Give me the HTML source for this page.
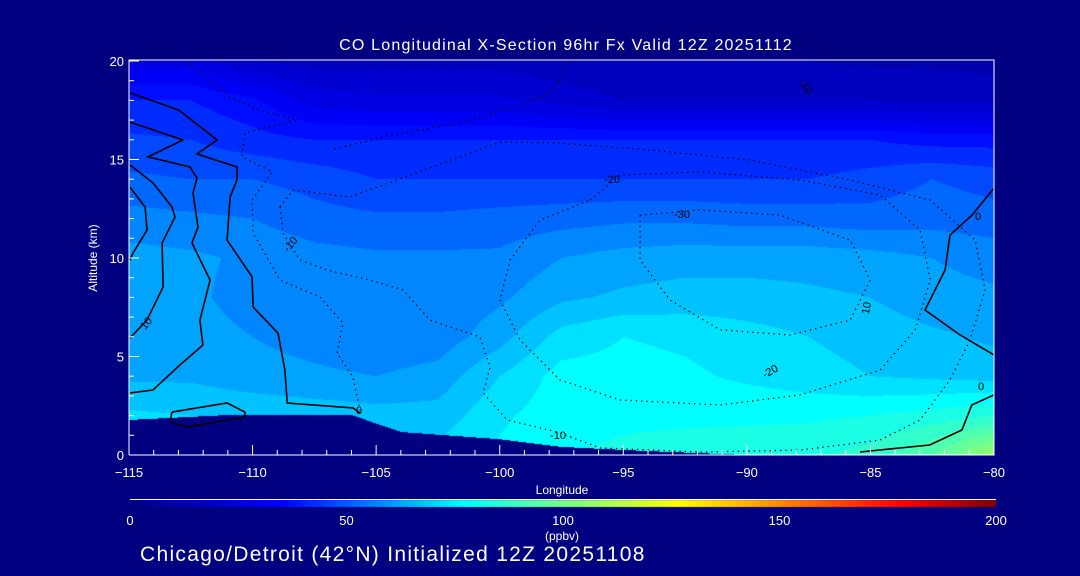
<!DOCTYPE html>
<html><head><meta charset="utf-8"><style>
html,body{margin:0;padding:0;background:#000080;width:1080px;height:576px;overflow:hidden}
#wrap{position:relative;width:1080px;height:576px;font-family:"Liberation Sans",sans-serif;color:#fff}
canvas,svg{position:absolute;left:0;top:0}
</style></head><body>
<div id="wrap">
<canvas id="cv" width="1080" height="576"></canvas>
<svg id="sv" width="1080" height="576"></svg>
</div>
<script>
// ---- data ----
const lons=[-115,-112.5,-110,-107.5,-105,-102.5,-100,-97.5,-95,-92.5,-90,-87.5,-85,-82.5,-80];
const alts=[20,18,16,14,12,10,8,6,4,2,0];
const coAlt20=[28,28,20,18,18,18,18,16,15,15,15,15,14,14,13];
const coAlt18=[40,40,36,28,26,26,26,23,20,20,20,20,20,19,19];
const coAlt16=[46,45,42,40,40,40,40,40,40,40,40,40,40,38,38];
const coAlt14=[51,50,50,48,45,45,45,45,45,45,45,45,47,50,48];
const coAlt12=[57,56,55,52,51,51,52,53,54,54,53,53,52,53,52];
const coAlt10=[62,61,59,57,56,56,56,60,62,63,63,63,62,60,58];
const coAlt8=[61,61,58,56,55,56,59,64,66,67,67,66,65,62,61];
const coAlt6=[62,62,60,58,56,57,63,72,75,74,72,70,68,66,64];
const coAlt4=[64,64,62,61,60,62,70,77,77,76,74,72,70,69,68];
const coAlt2=[71,70,69,68,67,67,74,78,79,79,79,79,80,82,85];
const coAlt0=[72,72,70,70,70,72,76,80,81,82,83,84,87,95,108];
const terrainLon=[-115,-111,-106,-104,-100,-97.5,-94,-90,-80];
const terrainAlt=[1.78,2.03,2.03,1.17,0.8,0.41,0.2,0,0];
const xTicks=[-115,-110,-105,-100,-95,-90,-85,-80];
const yTicks=[0,5,10,15,20];
const cbTicks=[0,50,100,150,200];
// anomaly contour lines [lon,alt]
const solidL1=[[-114.96,18.38],[-112.98,17.51],[-111.44,15.99],[-112.25,15.28],[-110.63,14.62],[-110.63,13.96],[-110.91,13.1],[-111.03,10.91],[-110.02,9.04],[-109.98,7.51],[-108.97,6.19],[-108.69,4.31],[-108.6,2.64],[-105.94,2.39],[-105.65,2.13]];
const solidL2=[[-114.96,16.9],[-112.82,15.99],[-114.23,15.13],[-112.53,14.62],[-112.25,14.06],[-112.41,13.3],[-112.21,11.57],[-112.45,10.76],[-111.72,8.88],[-112.13,6.85],[-112.01,5.58],[-112.94,4.57],[-114.03,3.3],[-114.96,3.15]];
const solidL4=[[-114.96,14.72],[-114.03,13.81],[-113.26,12.59],[-113.14,12.08],[-113.66,10.76],[-113.62,8.53],[-114.27,6.85],[-114.96,5.94]];
const solidL5=[[-114.96,13.6],[-114.35,12.59],[-114.27,11.42],[-114.84,10.25],[-114.96,9.9]];
const solidLoop=[[-113.26,2.18],[-111.03,2.64],[-110.31,2.18],[-110.31,1.93],[-112.65,1.42],[-113.34,1.68],[-113.26,2.18]];
const solidR1=[[-80,13.55],[-80.89,12.18],[-81.78,11.17],[-81.98,9.39],[-82.79,7.36],[-81.37,6.09],[-80,5.08]];
const solidR2=[[-85.42,0.15],[-82.6,0.51],[-81.3,1.27],[-80.9,2.54],[-80,3.05]];
const dotD1=[[-112.82,20.05],[-110.91,18.17],[-109.7,17.51],[-108.2,17.0],[-110.31,16.35],[-110.43,15.13],[-109.21,14.37],[-110.02,12.94],[-109.98,11.27],[-108.89,8.88],[-107.27,8.02],[-106.34,6.7],[-106.58,5.18],[-105.94,3.96],[-105.65,2.28]];
const dotD2=[[-108.89,12.59],[-108.36,13.45],[-106.06,13.1],[-104.15,13.96],[-99.99,15.89],[-97.68,15.84],[-93.92,15.48],[-89.87,14.97],[-85.82,13.96],[-82.58,12.94],[-80.76,10.91],[-80.36,8.38],[-80.97,5.84],[-81.78,3.81],[-82.99,1.78],[-84.61,0.76],[-87.84,0.25],[-91.89,0.15],[-95.94,0.36],[-97.68,1.17],[-99.7,1.78],[-100.67,3.15],[-100.39,4.47],[-100.8,5.99],[-102.82,6.85],[-103.91,8.38],[-105.25,8.88],[-106.99,9.39],[-108.08,9.9],[-108.77,11.27],[-108.89,12.59]];
const dotD3=[[-96.34,12.94],[-95.13,14.21],[-91.89,14.37],[-87.84,13.96],[-84.61,13.2],[-82.99,11.42],[-82.58,8.88],[-83.19,6.35],[-84.61,4.31],[-87.84,3.05],[-91.08,2.54],[-95.13,2.79],[-97.56,3.81],[-99.18,5.84],[-99.99,7.87],[-99.58,9.9],[-98.37,11.93],[-96.34,12.94]];
const dotD4=[[-94.32,12.18],[-91.89,12.44],[-88.65,12.18],[-85.82,10.91],[-85.01,8.88],[-85.82,6.85],[-88.25,6.09],[-91.08,6.35],[-93.11,7.87],[-94.32,9.9],[-94.32,12.18]];
const dotTop=[[-97.2,20],[-97.8,18.5],[-99.5,17.6],[-101.5,16.9],[-104.5,16.2],[-106.8,15.5]];

const grid=[coAlt20,coAlt18,coAlt16,coAlt14,coAlt12,coAlt10,coAlt8,coAlt6,coAlt4,coAlt2,coAlt0];
// ---- axes ----
const X0=129,X1=994,Y0=455,Y1=61;
const xs=l=>X0+(l+115)/35*(X1-X0);
const ys=a=>Y0-a/20*(Y0-Y1);
const stops=[[0,[0,0,128]],[35,[0,0,255]],[77,[0,255,255]],[102,[128,255,128]],[127,[255,255,0]],[178,[255,0,0]],[200,[128,0,0]]];
function cmap(v){v=Math.max(0,Math.min(200,v));for(let i=1;i<stops.length;i++){if(v<=stops[i][0]){const a=stops[i-1],b=stops[i],t=(v-a[0])/(b[0]-a[0]);return a[1].map((c,k)=>Math.round(c+(b[1][k]-c)*t));}}return stops[stops.length-1][1];}
function sample(lon,alt){let fi=(lon+115)/2.5,fj=(20-alt)/2;fi=Math.max(0,Math.min(lons.length-1.001,fi));fj=Math.max(0,Math.min(alts.length-1.001,fj));const i=Math.floor(fi),j=Math.floor(fj),u=fi-i,w=fj-j;return grid[j][i]*(1-u)*(1-w)+grid[j][i+1]*u*(1-w)+grid[j+1][i]*(1-u)*w+grid[j+1][i+1]*u*w;}
function terrain(lon){for(let i=1;i<terrainLon.length;i++){if(lon<=terrainLon[i]){const t=(lon-terrainLon[i-1])/(terrainLon[i]-terrainLon[i-1]);return terrainAlt[i-1]+(terrainAlt[i]-terrainAlt[i-1])*t;}}return 0;}
const cv=document.getElementById('cv'),ctx=cv.getContext('2d');
const img=ctx.createImageData(X1-X0,Y0-Y1);
for(let py=0;py<Y0-Y1;py++){for(let px=0;px<X1-X0;px++){const lon=-115+(px+0.5)/(X1-X0)*35,alt=20-(py+0.5)/(Y0-Y1)*20;let c;if(alt<terrain(lon))c=[0,0,128];else{const v=Math.floor(sample(lon,alt)/5)*5+2;c=cmap(v);}const k=(py*(X1-X0)+px)*4;img.data[k]=c[0];img.data[k+1]=c[1];img.data[k+2]=c[2];img.data[k+3]=255;}}
ctx.putImageData(img,X0,Y1);
// colorbar
const g=ctx.createLinearGradient(130,0,996,0);stops.forEach(s=>{g.addColorStop(s[0]/200,'rgb('+s[1].join(',')+')');});
ctx.fillStyle=g;ctx.fillRect(130,500,866,7);
// ---- svg overlay ----
const NS='http://www.w3.org/2000/svg',sv=document.getElementById('sv');
function el(t,a,p){const e=document.createElementNS(NS,t);for(const k in a)e.setAttribute(k,a[k]);(p||sv).appendChild(e);return e;}
function txt(s,x,y,size,anchor,name,extra){const e=el('text',Object.assign({x:x,y:y,fill:'#fff','font-size':size,'text-anchor':anchor||'start','font-family':'Liberation Sans, sans-serif'},extra||{}));e.textContent=s;return e;}
function line(pts,dash,name){const d=pts.map((p,i)=>(i?'L':'M')+xs(p[0]).toFixed(1)+' '+ys(p[1]).toFixed(1)).join(' ');const e=el('path',{d:d,fill:'none',stroke:'#000','stroke-width':dash?1.3:1.6,'stroke-dasharray':dash?'1.3 4':'none'});}
[solidL1,solidL2,solidL4,solidL5,solidLoop,solidR1,solidR2].forEach((p,i)=>line(p,false,'solid-contour-'+i));
[dotD1,dotD2,dotD3,dotD4,dotTop].forEach((p,i)=>line(p,true,'dotted-contour-'+i));
// contour labels
[['-10',290,248,-50],['10',146,327,-50],['-20',612,183,0],['-30',682,218,0],['-20',770,375,-30],['-10',558,439,0],['10',866,312,-80],['0',978,220,0],['0',981,390,0],['-10',806,90,60],['0',359,414,0]].forEach((l,i)=>{const e=txt(l[0],l[1],l[2],11,'middle','contour-label-'+i,{fill:'#000',transform:'rotate('+l[3]+' '+l[1]+' '+(l[2]-4)+')'});});
// frame
const fr=el('path',{d:`M${X0} ${Y0}L${X0} ${Y1-1}L${X1} ${Y1-1}L${X1} ${Y0}L${X0} ${Y0}`,fill:'none',stroke:'#fff','stroke-width':1});

for(let l=-115;l<=-80;l++){const maj=l%5===0;const t=el('line',{x1:xs(l),x2:xs(l),y1:Y0,y2:Y0-(maj?10:5),stroke:'#fff'});}
for(let a=0;a<=20;a++){const maj=a%5===0;const t=el('line',{x1:X0,x2:X0+(maj?10:5),y1:ys(a),y2:ys(a),stroke:'#fff'});}
xTicks.forEach(v=>txt(String(v).replace('-','\u2212'),xs(v),477,13,'middle','x-tick-label'));
yTicks.forEach(v=>txt(String(v),124,ys(v)+5,13,'end','y-tick-label'));
txt('Longitude',562,494,12,'middle','x-axis-title');
txt('Altitude (km)',97,258,12,'middle','y-axis-title',{transform:'rotate(-90 97 258)'});
txt('CO Longitudinal X-Section 96hr  Fx Valid 12Z 20251112',566,50,16,'middle','chart-title',{'xml:space':'preserve','letter-spacing':'1.2'});
const cbl=el('line',{x1:130,x2:996,y1:499.5,y2:499.5,stroke:'#fff'});
cbTicks.forEach(v=>txt(String(v),130+v/200*866,525,13,'middle','colorbar-tick-label'));
txt('(ppbv)',562,540,12,'middle','colorbar-unit');
txt('Chicago/Detroit (42\u00b0N) Initialized 12Z 20251108',140,561,21,'start','footer-caption',{'letter-spacing':'1.3'});
</script>
</body></html>
